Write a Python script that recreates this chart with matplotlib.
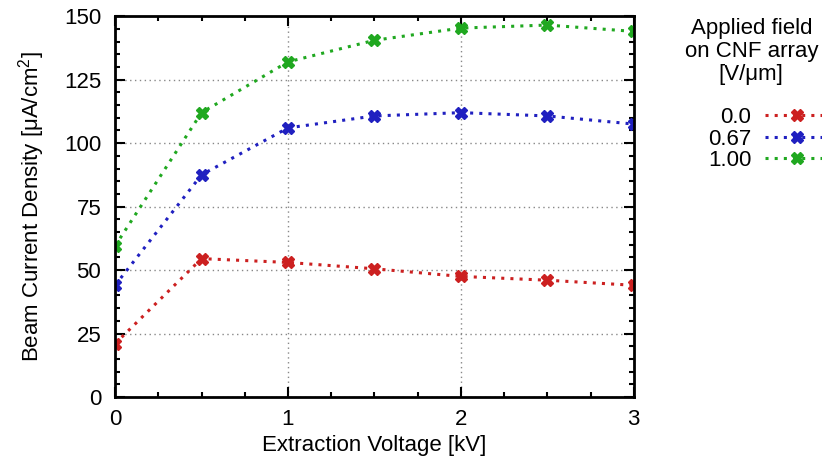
import matplotlib
matplotlib.use('Agg')
import matplotlib.pyplot as plt
from matplotlib.ticker import MultipleLocator

# data
voltage = [0, 0.5, 1, 1.5, 2, 2.5, 3]
field_labels = ['0.0', '0.67', '1.00']
density_00 = [21, 54.5, 53, 50.5, 47.5, 46, 44]
density_067 = [44, 87.5, 106, 110.7, 112, 110.7, 107.5]
density_100 = [59.5, 112, 132, 140.5, 145.3, 146.5, 144]
colors = ['#cc2020', '#2020c0', '#20a820']

plt.rcParams['font.family'] = ['Liberation Sans', 'DejaVu Sans']
plt.rcParams['mathtext.fontset'] = 'custom'
plt.rcParams['mathtext.rm'] = 'Liberation Sans'
plt.rcParams['font.size'] = 16

fig = plt.figure(figsize=(8.22, 4.62), dpi=100)
ax = fig.add_axes([0.14, 0.1407, 0.631, 0.8243])

for ys, lab, c in zip([density_00, density_067, density_100], field_labels, colors):
    ax.plot(voltage, ys, color=c, linestyle=(0, (1, 2)), linewidth=2.2,
            marker='X', markersize=8.5, label=lab)

ax.set_xlim(0, 3)
ax.set_ylim(0, 150)
ax.xaxis.set_major_locator(MultipleLocator(1))
ax.xaxis.set_minor_locator(MultipleLocator(0.25))
ax.yaxis.set_major_locator(MultipleLocator(25))
ax.yaxis.set_minor_locator(MultipleLocator(5))
ax.tick_params(which='both', direction='in', top=True, right=True, width=1.5)
ax.tick_params(which='major', length=7)
ax.tick_params(axis='x', which='major', pad=9)
ax.tick_params(axis='y', which='major', pad=10)
ax.tick_params(which='minor', length=3.5)
for s in ax.spines.values():
    s.set_linewidth(2)
ax.grid(True, which='major', color='#888888', linestyle=(0, (1, 2.5)), linewidth=1)

ax.set_xlabel('Extraction Voltage [kV]', labelpad=3.5)
ax.set_ylabel('Beam Current Density [μA/cm$^2$]', labelpad=12)

fig.text(0.914, 0.962, 'Applied field\non CNF array\n[V/μm]', ha='center', va='top',
         linespacing=1.15)
fig.legend(loc='upper right', bbox_to_anchor=(1.0085, 0.768), frameon=False,
           markerfirst=False, handlelength=2.9, labelspacing=0.02,
           handletextpad=0.6, borderpad=0, borderaxespad=0)

plt.savefig('out.png', dpi=100)
